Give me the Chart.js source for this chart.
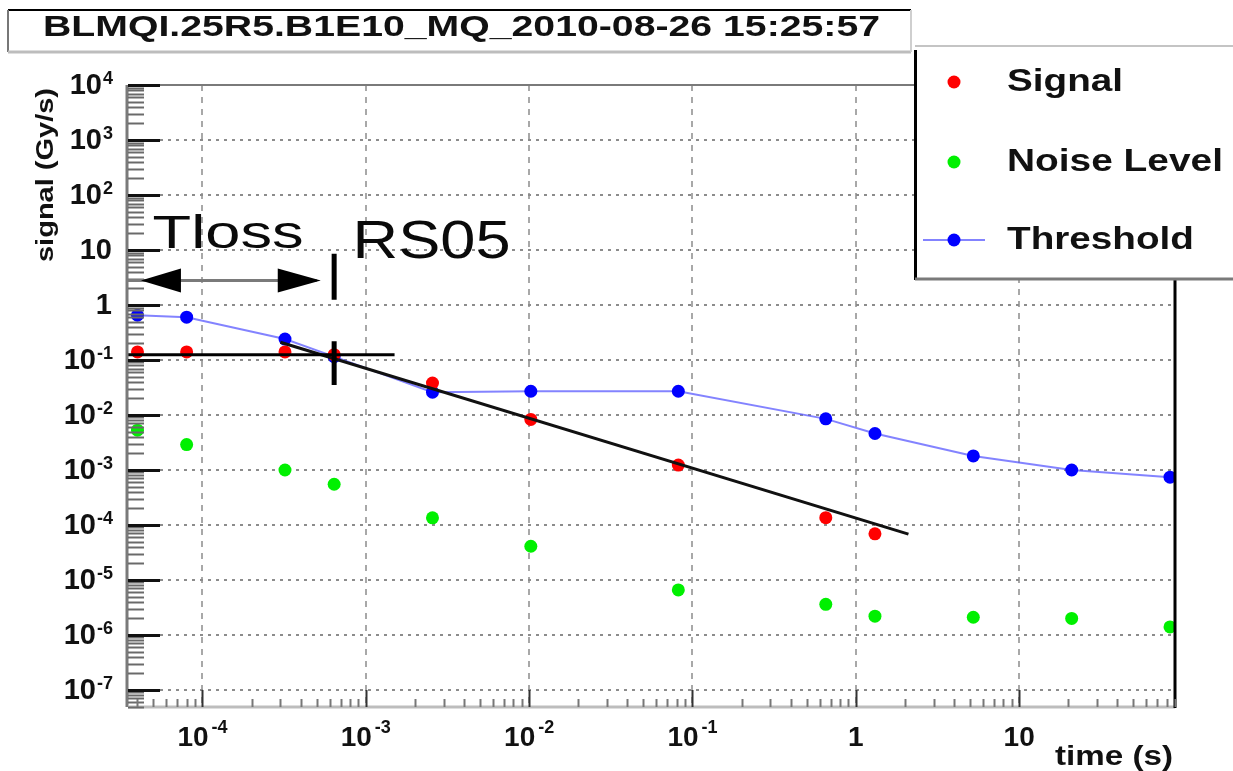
<!DOCTYPE html>
<html>
<head>
<meta charset="utf-8">
<title>BLMQI.25R5.B1E10_MQ_2010-08-26 15:25:57</title>
<script src="https://cdn.jsdelivr.net/npm/chart.js@4.4.1/dist/chart.umd.min.js"></script>
<style>
  html, body { margin: 0; padding: 0; background: #fff; }
  canvas { display: block; }
</style>
</head>
<body>
<canvas id="c" width="1233" height="771"></canvas>
<script>
// Running-sum integration times (s)
const times = [4e-5, 8e-5, 3.2e-4, 6.4e-4, 2.56e-3, 1.024e-2, 8.192e-2, 0.655, 1.31, 5.24, 20.97, 83.89];
// Measured loss signal (Gy/s); no value for the longest sums
const signal = [0.14, 0.14, 0.14, 0.125, 0.038, 0.0083, 0.00123, 1.36e-4, 6.9e-5, null, null, null];
// Noise level (Gy/s)
const noise = [5.3e-3, 2.9e-3, 1.0e-3, 5.5e-4, 1.35e-4, 4.1e-5, 6.6e-6, 3.6e-6, 2.2e-6, 2.1e-6, 2.0e-6, 1.4e-6];
// Dump threshold (Gy/s)
const threshold = [0.65, 0.60, 0.24, 0.115, 0.026, 0.027, 0.027, 0.0085, 0.0046, 0.0018, 0.0010, 0.00074];

// Power-law fit through the signal
const fitTime = [3.0e-4, 2.1];
const fitSignal = [0.21, 6.8e-5];

// Tloss crossing marker (RS05)
const tlossTime = 6.4e-4;
const tlossSignal = 0.125;
const tlossHTime = [3.5e-5, 1.5e-3];
const tlossVSignal = [0.22, 0.035];
const tlossTickSignal = [8.5, 1.25];
const arrowTime = [4.2e-5, 5.3e-4];
const arrowSignal = 2.8;
const tlossLabel = { text: 'Tloss', time: 4.95e-5, signal: 10.9 };
const rsLabel = { text: 'RS05', time: 8.3e-4, signal: 7.2 };

// Axis ranges and decade ticks
const xRange = [3.5e-5, 90];
const yRange = [4.9e-8, 1e4];
const xDecades = [-4, -3, -2, -1, 0, 1];
const yDecades = [-7, -6, -5, -4, -3, -2, -1, 0, 1, 2, 3, 4];

const titleText = 'BLMQI.25R5.B1E10_MQ_2010-08-26 15:25:57';
const xTitle = 'time (s)';
const yTitle = 'signal (Gy/s)';

const FONT = '"Liberation Sans", Arial, Helvetica, sans-serif';

const pts = (xs, ys) => xs.map((x, i) => ({ x, y: ys[i] })).filter(p => p.y !== null);

// Text squeezed/stretched horizontally to a given width
function fitText(ctx, text, x, y, font, width, align) {
  ctx.save();
  ctx.font = font;
  const w = ctx.measureText(text).width;
  const sx = width / w;
  ctx.translate(x, y);
  ctx.scale(sx, 1);
  ctx.textAlign = 'left';
  let x0 = 0;
  if (align === 'right') x0 = -w;
  else if (align === 'center') x0 = -w / 2;
  ctx.fillText(text, x0, 0);
  ctx.restore();
}

function line(ctx, x1, y1, x2, y2, color, width) {
  ctx.save();
  ctx.strokeStyle = color;
  ctx.lineWidth = width;
  ctx.beginPath();
  ctx.moveTo(x1, y1);
  ctx.lineTo(x2, y2);
  ctx.stroke();
  ctx.restore();
}

const rootStyle = {
  id: 'rootStyle',
  beforeDraw(chart) {
    const { ctx } = chart;
    ctx.save();
    ctx.fillStyle = '#fff';
    ctx.fillRect(0, 0, chart.width, chart.height);
    ctx.restore();
  },
  afterDraw(chart) {
    const { ctx, chartArea: a } = chart;
    const xs = chart.scales.x, ys = chart.scales.y;

    // frame
    line(ctx, a.left, a.top, a.right, a.top, '#7a7a7a', 2);
    line(ctx, a.left - 1, a.top, a.left - 1, a.bottom, '#7a7a7a', 3);
    line(ctx, a.left, a.bottom, a.right, a.bottom, '#bdbdbd', 3);
    line(ctx, a.right, a.top, a.right, a.bottom + 1, '#000', 3);

    // y ticks (inside the frame)
    for (let d = -8; d <= 4; d++) {
      for (let k = 1; k <= 9; k++) {
        const v = k * Math.pow(10, d);
        if (v < yRange[0] || v > yRange[1]) continue;
        const py = Math.round(ys.getPixelForValue(v)) + 0.5;
        if (k === 1) line(ctx, a.left, py, a.left + 32, py, '#111', 3);
        else line(ctx, a.left, py, a.left + 16, py, '#6a6a6a', 2);
      }
    }
    // x ticks
    for (let d = -5; d <= 1; d++) {
      for (let k = 1; k <= 9; k++) {
        const v = k * Math.pow(10, d);
        if (v < xRange[0] || v > xRange[1]) continue;
        const px = Math.round(xs.getPixelForValue(v)) + 0.5;
        if (k === 1) line(ctx, px, a.bottom, px, a.bottom - 17, '#333', 2);
        else line(ctx, px, a.bottom, px, a.bottom - 8, '#777', 2);
      }
    }

    // tick labels
    ctx.save();
    ctx.fillStyle = '#111';
    yDecades.forEach(e => {
      const py = ys.getPixelForValue(Math.pow(10, e));
      const right = 113;
      if (e === 0 || e === 1) {
        ctx.font = 'bold 29px ' + FONT;
        ctx.textAlign = 'right';
        ctx.textBaseline = 'middle';
        ctx.fillText(e === 0 ? '1' : '10', right - 1, py + 1);
      } else {
        ctx.font = 'bold 18px ' + FONT;
        ctx.textAlign = 'right';
        ctx.textBaseline = 'alphabetic';
        const ex = String(e);
        const ew = ctx.measureText(ex).width;
        ctx.fillText(ex, right, py - 1);
        ctx.font = 'bold 29px ' + FONT;
        ctx.textBaseline = 'middle';
        ctx.fillText('10', right - ew - 1, py + 1);
      }
    });
    xDecades.forEach(e => {
      const px = xs.getPixelForValue(Math.pow(10, e));
      const my = 737;
      if (e === 0 || e === 1) {
        ctx.font = 'bold 28px ' + FONT;
        ctx.textAlign = 'center';
        ctx.textBaseline = 'middle';
        ctx.fillText(e === 0 ? '1' : '10', px, my + 1);
      } else {
        ctx.font = 'bold 28px ' + FONT;
        const bw = ctx.measureText('10').width;
        ctx.font = 'bold 18px ' + FONT;
        const ex = String(e);
        const ew = ctx.measureText(ex).width;
        const total = bw + 3 + ew;
        const x0 = px - total / 2;
        ctx.textAlign = 'left';
        ctx.textBaseline = 'alphabetic';
        ctx.fillText(ex, x0 + bw + 3, my - 4);
        ctx.font = 'bold 28px ' + FONT;
        ctx.textBaseline = 'middle';
        ctx.fillText('10', x0, my + 1);
      }
    });
    ctx.restore();

    // axis titles
    ctx.save();
    ctx.fillStyle = '#111';
    ctx.textBaseline = 'middle';
    fitText(ctx, xTitle, 1173, 758, 'bold 27px ' + FONT, 118, 'right');
    ctx.translate(46, 262);
    ctx.rotate(-Math.PI / 2);
    fitText(ctx, yTitle, 0, 0, 'bold 24px ' + FONT, 174, 'left');
    ctx.restore();

    // Tloss window arrow
    const ay = ys.getPixelForValue(arrowSignal);
    const ax1 = xs.getPixelForValue(arrowTime[0]);
    const ax2 = xs.getPixelForValue(arrowTime[1]);
    line(ctx, a.left, ay, ax2 - 4, ay, '#7a7a7a', 3);
    ctx.save();
    ctx.fillStyle = '#000';
    ctx.beginPath();
    ctx.moveTo(ax1, ay); ctx.lineTo(ax1 + 40, ay - 12); ctx.lineTo(ax1 + 40, ay + 12); ctx.closePath();
    ctx.fill();
    ctx.beginPath();
    ctx.moveTo(ax2, ay); ctx.lineTo(ax2 - 43, ay - 12); ctx.lineTo(ax2 - 43, ay + 12); ctx.closePath();
    ctx.fill();
    ctx.restore();

    // Tloss / RS05 labels
    ctx.save();
    ctx.fillStyle = '#0a0a0a';
    ctx.textBaseline = 'alphabetic';
    fitText(ctx, tlossLabel.text, xs.getPixelForValue(tlossLabel.time), ys.getPixelForValue(tlossLabel.signal),
      '46px ' + FONT, 151, 'left');
    fitText(ctx, rsLabel.text, xs.getPixelForValue(rsLabel.time), ys.getPixelForValue(rsLabel.signal),
      '53px ' + FONT, 158, 'left');
    ctx.restore();

    // title box
    ctx.save();
    ctx.fillStyle = '#fff';
    ctx.fillRect(8, 10, 903, 42);
    line(ctx, 8, 10, 911, 10, '#000', 2);
    line(ctx, 8, 10, 8, 52, '#777', 2);
    line(ctx, 8, 52, 911, 52, '#bdbdbd', 3);
    line(ctx, 911, 10, 911, 52, '#cfcfcf', 2);
    ctx.fillStyle = '#111';
    ctx.textBaseline = 'middle';
    fitText(ctx, titleText, 43, 28, 'bold 30px ' + FONT, 837, 'left');
    ctx.restore();

    // legend box
    ctx.save();
    ctx.fillStyle = '#fff';
    ctx.fillRect(915, 46, 330, 233);
    line(ctx, 915, 46, 1233, 46, '#c4c4c4', 2);
    line(ctx, 915.5, 50, 915.5, 280, '#000', 3);
    line(ctx, 915, 279, 1233, 279, '#7a7a7a', 3);
    const entries = [
      { text: 'Signal', color: '#ff0000', y: 82, showLine: false },
      { text: 'Noise Level', color: '#00f000', y: 162, showLine: false },
      { text: 'Threshold', color: '#0000ff', y: 240, showLine: true }
    ];
    const widths = { 'Signal': 116, 'Noise Level': 216, 'Threshold': 187 };
    entries.forEach(en => {
      if (en.showLine) line(ctx, 923, en.y, 985, en.y, 'rgba(90,90,255,0.75)', 2);
      ctx.fillStyle = en.color;
      ctx.beginPath();
      ctx.arc(954, en.y, 6.5, 0, Math.PI * 2);
      ctx.fill();
      ctx.fillStyle = '#111';
      ctx.textBaseline = 'middle';
      fitText(ctx, en.text, 1007, en.y, 'bold 32px ' + FONT, widths[en.text], 'left');
    });
    ctx.restore();
  }
};

const marker = (color) => ({
  backgroundColor: color,
  borderColor: color,
  pointRadius: 6.5,
  pointBorderWidth: 0,
  pointStyle: 'circle'
});

new Chart(document.getElementById('c'), {
  type: 'scatter',
  data: {
    datasets: [
      Object.assign({ label: 'Signal', data: pts(times, signal), showLine: false, order: 3 }, marker('#ff0000')),
      Object.assign({ label: 'Noise Level', data: pts(times, noise), showLine: false, order: 5 }, marker('#00f000')),
      Object.assign({ label: 'Threshold', data: pts(times, threshold), showLine: true, order: 4 }, marker('#0000ff'),
        { borderColor: 'rgba(90,90,255,0.75)', borderWidth: 2 }),
      { label: 'fit', data: pts(fitTime, fitSignal), showLine: true, borderColor: '#111', borderWidth: 3, pointRadius: 0, order: 2 },
      { label: 'tloss-h', data: pts(tlossHTime, [tlossSignal, tlossSignal]), showLine: true, borderColor: '#000', borderWidth: 3, pointRadius: 0, order: 1 },
      { label: 'tloss-v', data: pts([tlossTime, tlossTime], tlossVSignal), showLine: true, borderColor: '#000', borderWidth: 5, pointRadius: 0, order: 1 },
      { label: 'tloss-tick', data: pts([tlossTime, tlossTime], tlossTickSignal), showLine: true, borderColor: '#000', borderWidth: 5, pointRadius: 0, order: 1 }
    ]
  },
  options: {
    responsive: false,
    animation: false,
    events: [],
    layout: { padding: { top: 85, right: 58, left: 0, bottom: 0 } },
    plugins: { legend: { display: false }, tooltip: { enabled: false }, title: { display: false } },
    scales: {
      x: {
        type: 'logarithmic',
        min: xRange[0], max: xRange[1],
        ticks: { display: false },
        grid: { color: '#a8a8a8', lineWidth: 2, drawTicks: false },
        border: { display: false, dash: [6, 6] },
        afterBuildTicks: s => { s.ticks = xDecades.map(e => ({ value: Math.pow(10, e) })); },
        afterFit: s => { s.height = 64; }
      },
      y: {
        type: 'logarithmic',
        min: yRange[0], max: yRange[1],
        ticks: { display: false },
        grid: { color: '#8c8c8c', lineWidth: 2, drawTicks: false },
        border: { display: false, dash: [3, 5] },
        afterBuildTicks: s => { s.ticks = yDecades.map(e => ({ value: Math.pow(10, e) })); },
        afterFit: s => { s.width = 128; }
      }
    }
  },
  plugins: [rootStyle]
});
</script>
</body>
</html>
